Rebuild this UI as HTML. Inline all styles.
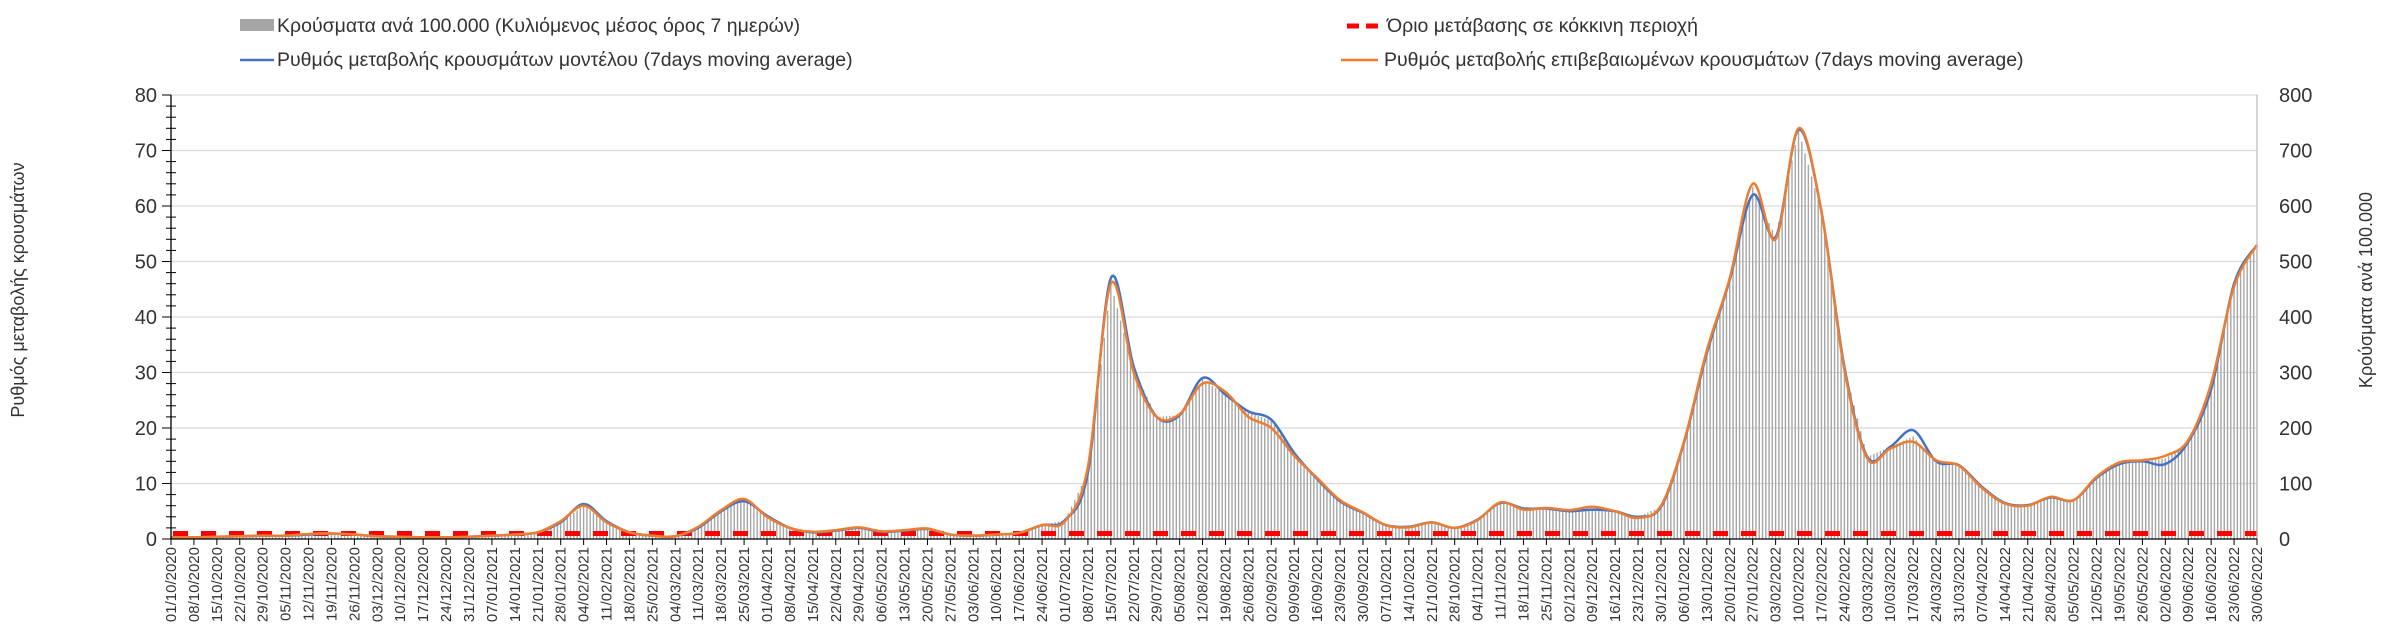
<!DOCTYPE html>
<html><head><meta charset="utf-8"><style>
html,body{margin:0;padding:0;background:#fff;}
svg{display:block;font-family:"Liberation Sans",sans-serif;}
</style></head><body>
<svg id="chart" width="2401" height="641" viewBox="0 0 2401 641">
<g id="legend">
<g><rect x="240" y="19" width="34" height="12" fill="#a6a6a6"/><text x="277" y="32" font-size="19.5" fill="#333">Κρούσματα ανά 100.000 (Κυλιόμενος μέσος όρος 7 ημερών)</text></g>
<g><line x1="240" y1="60" x2="274" y2="60" stroke="#4472c4" stroke-width="2.5"/><text x="277" y="66" font-size="19.5" fill="#333">Ρυθμός μεταβολής κρουσμάτων μοντέλου (7days moving average)</text></g>
<g><line x1="1347" y1="26" x2="1385" y2="26" stroke="#ff0000" stroke-width="5" stroke-dasharray="12,7"/><text x="1387" y="32" font-size="19.5" fill="#333">Όριο μετάβασης σε κόκκινη περιοχή</text></g>
<g><line x1="1341" y1="60" x2="1378" y2="60" stroke="#ed7d31" stroke-width="2.5"/><text x="1384" y="66" font-size="19.5" fill="#333">Ρυθμός μεταβολής επιβεβαιωμένων κρουσμάτων (7days moving average)</text></g>
</g>
<text transform="translate(24,290) rotate(-90)" text-anchor="middle" font-size="18" fill="#333">Ρυθμός μεταβολής κρουσμάτων</text>
<text transform="translate(2372,290) rotate(-90)" text-anchor="middle" font-size="18" fill="#333">Κρούσματα ανά 100.000</text>
<g id="plot"></g>
</svg>
<script>
const cases = [0.3,0.3,0.4,0.5,0.6,0.6,0.8,1.0,0.8,0.5,0.4,0.3,0.3,0.4,0.6,0.8,1.2,3,6,3,1.2,0.6,0.5,2,5,7,4,2,1.2,1.5,2,1.3,1.5,1.8,0.8,0.6,0.8,1.1,2.5,3.4,12,46,30.5,22,22.3,28.7,26,22.7,21.4,15.5,10.6,6.7,4.7,2.5,2.2,3,2,3.5,6.5,5.5,5.5,5,5.5,5,4,5.8,17.3,33.5,46.7,63.4,54.4,73.7,59,31,14.8,16.6,18.5,13.7,13.3,9.4,6.5,6.1,7.5,7,11,13.5,14,14.5,17.5,27,46,53];
const model = [0.3,0.3,0.4,0.5,0.6,0.6,0.8,1.0,0.8,0.5,0.4,0.3,0.3,0.4,0.6,0.8,1.2,3,6.3,3.2,1.2,0.6,0.5,2,5,6.8,4.2,2,1.2,1.5,2,1.3,1.5,1.8,0.8,0.6,0.8,1.1,2.5,3.4,12,47,31,22,22.3,29,26,23,21.5,15.5,10.8,6.8,4.7,2.5,2.2,3,2,3.5,6.5,5.5,5.5,5,5.3,5,4,5.8,17.3,33.5,46.7,62,54.4,73.7,59,31,14.8,16.6,19.6,14,13.3,9.4,6.5,6.1,7.5,7,11,13.5,14,13.5,17.5,27,46,53];
const confirmed = [0.3,0.3,0.4,0.5,0.6,0.6,0.9,1.0,0.8,0.5,0.4,0.3,0.3,0.4,0.6,0.8,1.2,3.2,6,3,1.2,0.6,0.5,2.2,5.2,7.2,4,2,1.3,1.6,2.1,1.4,1.6,1.9,0.8,0.6,0.8,1.1,2.5,3.2,13,46,30,22,22.5,28,26.5,22,20,15,11,7,4.8,2.5,2.1,3,2,3.4,6.6,5.3,5.6,5.2,5.8,5,3.8,6,17.5,34,47,64,54,74,59,30.5,14.5,16.3,17.5,14.2,13.2,9.2,6.4,6,7.6,7,11.2,13.8,14.2,15,17.8,28,45.5,53];
const tickLabels = [];
(function(){let d=new Date(Date.UTC(2020,9,1));for(let i=0;i<92;i++){const dd=String(d.getUTCDate()).padStart(2,'0'),mm=String(d.getUTCMonth()+1).padStart(2,'0');tickLabels.push(dd+'/'+mm+'/'+d.getUTCFullYear());d=new Date(d.getTime()+7*86400000);}})();
const leftTicks=[0,10,20,30,40,50,60,70,80];
const rightTicks=[0,100,200,300,400,500,600,700,800];
const threshold=1;

const X0=171,X1=2257,Y0=539,Y1=95;
const NS='http://www.w3.org/2000/svg';
const plot=document.getElementById('plot');
const step=(X1-X0)/(tickLabels.length-1);
function xs(i){return X0+i*step;}
function ys(v){return Y0-(v/80)*(Y0-Y1);}
function yr(v){return Y0-(v/800)*(Y0-Y1);}
function mk(tag,attrs,parent){const e=document.createElementNS(NS,tag);for(const k in attrs)e.setAttribute(k,attrs[k]);(parent||plot).appendChild(e);return e;}

leftTicks.forEach(t=>{if(t===0)return;const g=mk('line',{x1:X0,x2:X1,y1:ys(t),y2:ys(t),stroke:'#d9d9d9','stroke-width':1.3});

});

// daily bars: 7 per weekly value, height eased between weekly values
const barG=mk('g',{});


for(let i=0;i<cases.length;i++){
  const n=i===cases.length-1?1:7;
  for(let k=0;k<n;k++){
    const f=k/7;const v=n===1?cases[i]:cases[i]+(cases[i+1]-cases[i])*f;
    const x=xs(i)+step*f;
    const r=mk('rect',{x:x-0.7,y:ys(v),width:1.4,height:Y0-ys(v),fill:'#a6a6a6'},barG);
    
    
  }
}

const th=mk('line',{x1:X0+2,x2:X1,y1:ys(threshold),y2:ys(threshold),stroke:'#ff0000','stroke-width':5,'stroke-dasharray':'15,13'});



function smoothPath(arr){const p=arr.map((v,i)=>[xs(i),ys(v)]);let d='M'+p[0][0]+','+p[0][1];
for(let i=0;i<p.length-1;i++){const p0=p[i-1]||p[i],p1=p[i],p2=p[i+1],p3=p[i+2]||p2;
const c1=[p1[0]+(p2[0]-p0[0])/6,p1[1]+(p2[1]-p0[1])/6],c2=[p2[0]-(p3[0]-p1[0])/6,p2[1]-(p3[1]-p1[1])/6];
d+=' C'+c1[0]+','+c1[1]+' '+c2[0]+','+c2[1]+' '+p2[0]+','+p2[1];}return d;}
function line(arr,color,name){const p=mk('path',{d:smoothPath(arr),fill:'none',stroke:color,'stroke-width':2.5,'stroke-linejoin':'round'});

}
line(model,'#4472c4','model-rate-line');
line(confirmed,'#ed7d31','confirmed-rate-line');

const la=mk('line',{x1:X0,x2:X0,y1:Y1,y2:Y0,stroke:'#000','stroke-width':1.3});


const ra=mk('line',{x1:X1,x2:X1,y1:Y1,y2:Y0,stroke:'#bfbfbf','stroke-width':1.3});


const xa=mk('line',{x1:X0,x2:X1,y1:Y0,y2:Y0,stroke:'#000','stroke-width':1.3});


for(let v=0;v<=80;v+=2){const big=v%10===0;mk('line',{x1:big?X0-9:X0-5,x2:X0+(big?0:5),y1:ys(v),y2:ys(v),stroke:'#000','stroke-width':1});}
leftTicks.forEach(t=>{const tx=mk('text',{x:X0-14,y:ys(t)+7,'text-anchor':'end','font-size':20,fill:'#333'});tx.textContent=t;

});
rightTicks.forEach(t=>{const tx=mk('text',{x:X1+22,y:yr(t)+7,'text-anchor':'start','font-size':20,fill:'#333'});tx.textContent=t;

});
tickLabels.forEach((l,i)=>{const x=xs(i);mk('line',{x1:x,x2:x,y1:Y0,y2:Y0+6,stroke:'#000','stroke-width':1});
const tx=mk('text',{transform:'translate('+(x+5)+','+(Y0+8)+') rotate(-90)','text-anchor':'end','font-size':15,fill:'#333'});tx.textContent=l;

});
</script>
</body></html>
